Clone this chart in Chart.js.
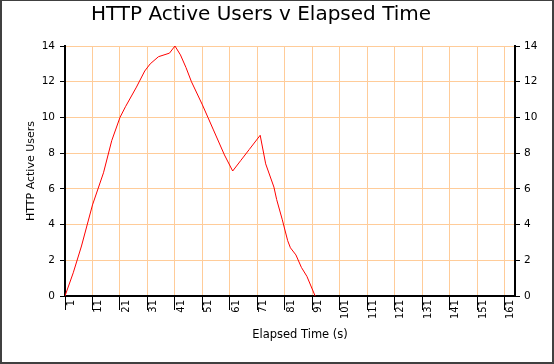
<!DOCTYPE html>
<html>
<head>
<meta charset="utf-8">
<script src="https://cdn.jsdelivr.net/npm/chart.js@4/dist/chart.umd.min.js"></script>
<style>
  html, body { margin: 0; padding: 0; background: #fff; }
  #frame {
    position: absolute; left: 0; top: 0;
    width: 554px; height: 364px; box-sizing: border-box;
    border-style: solid; border-color: #404040;
    border-width: 1px 2px 2px 2px;
  }
  #chart { display: block; }
</style>
</head>
<body>
<div id="frame"><canvas id="chart" width="550" height="361"></canvas></div>
<script>
  // values
  const elapsed = [1, 4, 7, 11, 15, 18, 21, 23, 27, 30, 32, 35, 39, 41, 43, 45, 47, 51, 53, 55, 59, 62, 65, 68, 72, 74, 77, 78, 80, 82, 83, 85, 87, 89, 92];
  const activeUsers = [0, 1.3, 2.8, 5.1, 6.9, 8.7, 10, 10.6, 11.7, 12.6, 13, 13.4, 13.6, 14, 13.5, 12.8, 12, 10.7, 10, 9.3, 7.9, 7, 7.6, 8.2, 9, 7.4, 6.1, 5.4, 4.3, 3.1, 2.7, 2.3, 1.6, 1.1, 0];
  const xTicks = [1, 11, 21, 31, 41, 51, 61, 71, 81, 91, 101, 111, 121, 131, 141, 151, 161];
  const yTicks = [0, 2, 4, 6, 8, 10, 12, 14];

  const chartTitle = "HTTP Active Users v Elapsed Time";
  const xTitle = "Elapsed Time (s)";
  const yTitle = "HTTP Active Users";

  Chart.defaults.font.family = "'DejaVu Sans', sans-serif";
  Chart.defaults.color = "#000";

  const gridColor = "#ffcc99";

  // titles placed where the reference has them
  const titles = {
    id: "titles",
    afterDraw(chart) {
      const c = chart.ctx;
      c.save();
      c.fillStyle = "#000";
      c.textAlign = "center";
      c.textBaseline = "alphabetic";
      c.font = "20px 'DejaVu Sans'";
      c.fillText(chartTitle, 259, 19);
      c.font = "11.5px 'DejaVu Sans'";
      c.fillText(xTitle, 298, 337);
      c.translate(29, 170);
      c.rotate(-Math.PI / 2);
      c.textBaseline = "middle";
      c.font = "11px 'DejaVu Sans'";
      c.fillText(yTitle, 0, 0);
      c.restore();
    }
  };

  const ctx = document.getElementById("chart").getContext("2d");
  new Chart(ctx, {
    type: "line",
    data: {
      datasets: [{
        data: elapsed.map((x, i) => ({ x, y: activeUsers[i] })),
        borderColor: "#ff0000",
        borderWidth: 1,
        pointRadius: 0,
        tension: 0,
        fill: false
      }]
    },
    options: {
      responsive: false,
      animation: false,
      events: [],
      layout: { padding: { top: 45, left: 0, right: 0, bottom: 0 } },
      plugins: { legend: { display: false }, tooltip: { enabled: false } },
      scales: {
        x: {
          type: "linear",
          min: 1,
          max: 164.7,
          afterBuildTicks: (s) => { s.ticks = xTicks.map(v => ({ value: v })); },
          afterFit: (s) => { s.height = 66; },
          grid: { color: gridColor, tickColor: "#000", tickLength: 14 },
          border: { color: "#000", width: 2 },
          ticks: {
            autoSkip: false,
            minRotation: 90,
            maxRotation: 90,
            padding: -10,
            labelOffset: 6,
            font: { size: 10 }
          }
        },
        y: {
          position: "left",
          min: 0,
          max: 14,
          afterBuildTicks: (s) => { s.ticks = yTicks.map(v => ({ value: v })); },
          afterFit: (s) => { s.width = 63; },
          grid: { color: gridColor, tickColor: "#000", tickLength: 5 },
          border: { color: "#000", width: 2 },
          ticks: { padding: 5, font: { size: 10.5 } }
        },
        y2: {
          position: "right",
          min: 0,
          max: 14,
          afterBuildTicks: (s) => { s.ticks = yTicks.map(v => ({ value: v })); },
          afterFit: (s) => { s.width = 37; },
          grid: { drawOnChartArea: false, tickColor: "#000", tickLength: 5 },
          border: { color: "#000", width: 2 },
          ticks: { padding: 4, font: { size: 10.5 } }
        }
      }
    },
    plugins: [titles]
  });
</script>
</body>
</html>
